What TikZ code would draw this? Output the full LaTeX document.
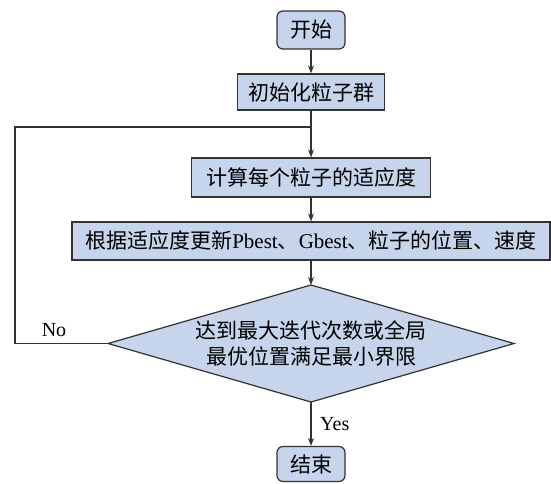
\documentclass[tikz,border=0pt]{standalone}
\usepackage{fontspec}
\setmainfont{Liberation Serif}
\newfontfamily\cjk{Noto Sans CJK SC}
\usetikzlibrary{shapes.geometric,arrows.meta}
\definecolor{boxfill}{RGB}{198,212,236}
\definecolor{edgec}{RGB}{50,50,50}
\tikzset{
  base/.style={draw=edgec,fill=boxfill,line width=1.2pt,inner sep=0pt,font=\fontsize{21}{26}\selectfont\cjk,align=center},
  procbox/.style={base,rectangle},
  termbox/.style={base,rectangle,rounded corners=6pt},
  conn/.style={draw=edgec,line width=1.2pt},
  arr/.style={conn,-{Stealth[length=8pt,width=6pt]}},
  lbl/.style={font=\fontsize{20}{24}\selectfont,inner sep=0pt}
}
\begin{document}
\begin{tikzpicture}[x=1pt,y=-1pt]
\useasboundingbox (0,0) rectangle (551,483);
\node[termbox,minimum width=68pt,minimum height=38pt] (start) at (311,30) {开始};
\node[procbox,minimum width=147pt,minimum height=36pt] (init) at (311,92) {初始化粒子群};
\node[procbox,minimum width=239pt,minimum height=39pt] (calc) at (311,177.5) {计算每个粒子的适应度};
\node[procbox,minimum width=478pt,minimum height=38pt] (upd) at (311,241) {根据适应度更新{\rmfamily Pbest}、{\rmfamily Gbest}、粒子的位置、速度};
\coordinate (dl) at (108,343.5);
\coordinate (db) at (311,402);
\coordinate (dt) at (311,285);
\coordinate (dr) at (514,343.5);
\path[draw=edgec,fill=boxfill,line width=1.2pt] (dl) -- (dt) -- (dr) -- (db) -- cycle;
\node[base,draw=none,fill=none] (dec) at (311,343.5) {达到最大迭代次数或全局\\最优位置满足最小界限};
\node[termbox,minimum width=68pt,minimum height=35pt] (stop) at (311,464) {结束};
\coordinate (c1) at (15,343.5);
\coordinate (c2) at (15,127);
\coordinate (c3) at (311,127);
\draw[arr] (start) -- (init);
\draw[arr] (init) -- (calc);
\draw[arr] (calc) -- (upd);
\draw[arr] (upd) -- (dt);
\draw[arr] (db) -- (stop);
\draw[conn] (dl) -- (c1) -- (c2) -- (c3);
\node[lbl] (no) at (54,330) {No};
\node[lbl,anchor=west] (yes) at (320,424) {Yes};
\end{tikzpicture}
\end{document}
